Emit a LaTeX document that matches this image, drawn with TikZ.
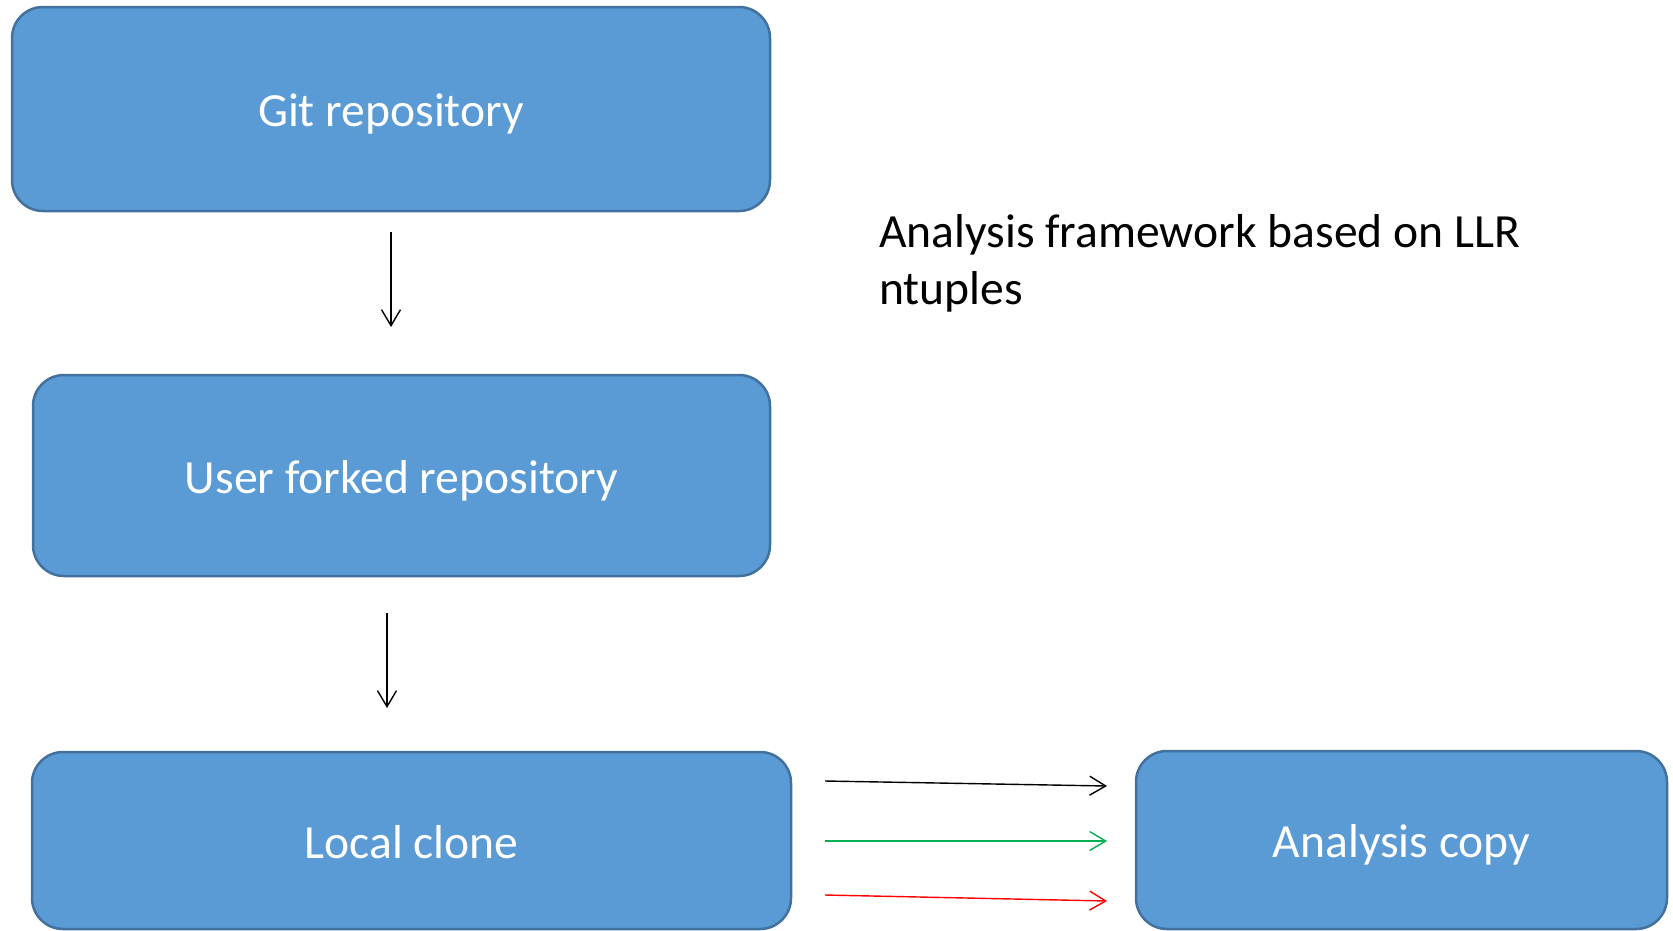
\documentclass[tikz,border=0pt]{standalone}
\usepackage{fontspec}
\setmainfont{Carlito}
\usetikzlibrary{arrows.meta}
\definecolor{boxfill}{HTML}{5B9BD5}
\definecolor{boxline}{HTML}{41719C}
\definecolor{arrgreen}{HTML}{00B050}
\definecolor{arrred}{HTML}{FF0000}
\tikzset{
  bluebox/.style={rectangle, rounded corners=31pt, fill=boxfill, draw=boxline, line width=2.5pt,
    text=white, font=\fontsize{47.6}{56}\selectfont, inner sep=0pt, text height=43pt, text depth=8pt},
  conn/.style={line width=1.4pt, -{Straight Barb[length=16pt,width=19pt,line width=1.4pt]}},
  plaintext/.style={font=\fontsize{47.6}{56.5}\selectfont, align=left, inner sep=0pt}
}
\begin{document}
\begin{tikzpicture}[x=1pt,y=-1pt]
\useasboundingbox[fill=white] (0,0) rectangle (1673,930);
\node[bluebox, minimum width=758pt, minimum height=204pt] (git) at (391,109) {Git repository};
\node[bluebox, minimum width=737pt, minimum height=201pt] (user) at (401.5,475.5) {User forked repository};
\node[bluebox, minimum width=759pt, minimum height=177pt] (local) at (411.5,840.5) {Local clone};
\node[bluebox, minimum width=531pt, minimum height=178pt] (copy) at (1401.5,840) {Analysis copy};
\node[plaintext, anchor=base west] (title) at (879,304) {Analysis framework based on LLR\\ntuples};
\coordinate (a1s) at (391,232);
\coordinate (a1e) at (391,327);
\coordinate (a2s) at (387,613);
\coordinate (a2e) at (387,708);
\coordinate (b1s) at (825,781);
\coordinate (b1e) at (1107,786);
\coordinate (b2s) at (825,841);
\coordinate (b2e) at (1107,841);
\coordinate (b3s) at (825,895);
\coordinate (b3e) at (1107,901);
\draw[conn] (a1s) -- (a1e);
\draw[conn] (a2s) -- (a2e);
\draw[conn, black] (b1s) -- (b1e);
\draw[conn, arrgreen] (b2s) -- (b2e);
\draw[conn, arrred] (b3s) -- (b3e);
\end{tikzpicture}
\end{document}
